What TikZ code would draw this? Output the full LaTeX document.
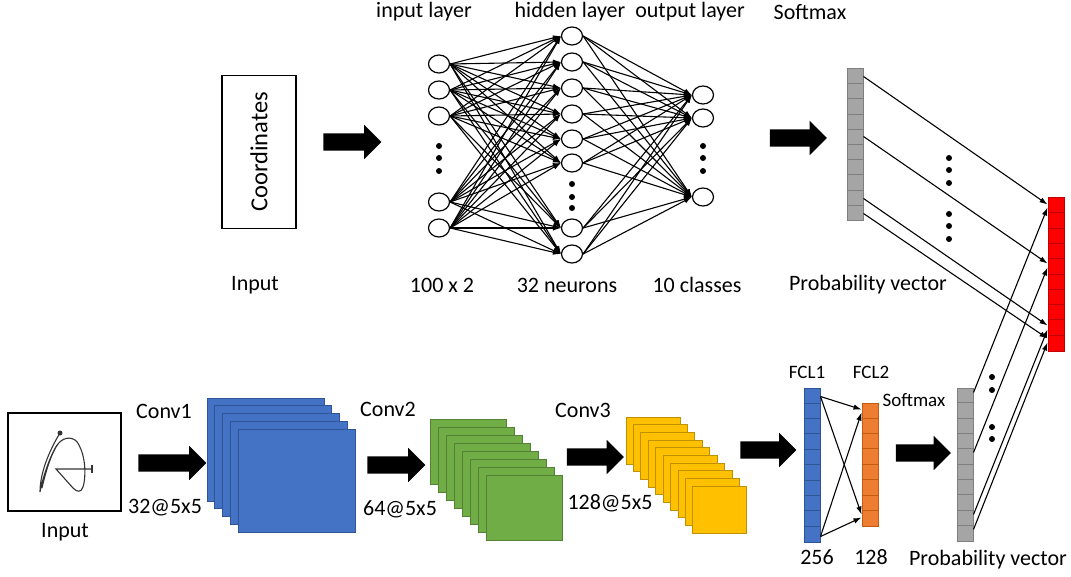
\documentclass[tikz,border=0pt]{standalone}
\usepackage{fontspec}
\setmainfont{Carlito}
\usetikzlibrary{shapes.geometric,shapes.arrows,arrows.meta}

\definecolor{azul}{HTML}{4472C4}
\definecolor{azulb}{HTML}{2F5597}
\definecolor{verde}{HTML}{70AD47}
\definecolor{verdeb}{HTML}{548235}
\definecolor{amarelo}{HTML}{FFC000}
\definecolor{amarelob}{HTML}{BF9000}
\definecolor{laranja}{HTML}{ED7D31}
\definecolor{laranjab}{HTML}{C55A11}
\definecolor{cinza}{HTML}{A5A5A5}
\definecolor{cinzab}{HTML}{7F7F7F}
\definecolor{vermelho}{HTML}{FF0000}
\definecolor{vermelhob}{HTML}{C00000}

\tikzset{
  neuronio/.style={ellipse, draw, line width=1.2pt, fill=white, minimum width=21pt, minimum height=18pt, inner sep=0pt},
  seta/.style={-{Latex[length=8pt,width=5.5pt]}, line width=1.1pt},
  setona/.style={single arrow, fill=black, draw=none, inner xsep=0pt, inner ysep=8.5pt, single arrow head extend=8.5pt},
  vetor/.style={rectangle, minimum width=16pt, inner sep=0pt, line width=1pt},
  rotulo/.style={font=\fontsize{22}{26}\selectfont},
  rotulop/.style={font=\fontsize{19}{22}\selectfont},
  mapa/.style={line width=1pt}
}

% linhas das celulas: no, n-1, altura, cor
\newcommand{\celulas}[4]{%
  \foreach \k in {1,...,#2}{\draw[line width=0.8pt,#4] ([yshift={-\k*#3}]#1.north west) -- ([yshift={-\k*#3}]#1.north east);}}

\begin{document}
\begin{tikzpicture}[x=1pt,y=-1pt]
\useasboundingbox (0,0) rectangle (1071,577);

% entrada (coordenadas)
\node[draw, line width=1.2pt, rotate=90, minimum width=153pt, minimum height=74pt, font=\fontsize{24.5}{28}\selectfont] (coord) at (259,152) {Coordinates};
\node[rotulo] (inA) at (255,285) {Input};
\node[setona, minimum height=58pt] (s1) at (348,142) {};

% rede neural
\foreach \y [count=\n] in {64,90,116,202,228}
  \node[neuronio] (i\n) at (439,\y) {};
\foreach \y [count=\n] in {36,62,88,114,139,163,228,254}
  \node[neuronio] (h\n) at (572,\y) {};
\foreach \y [count=\n] in {95,118,197}
  \node[neuronio] (o\n) at (703,\y) {};
\foreach \i in {1,...,5}
  \foreach \h in {1,...,8}
    \draw[seta] (i\i.east) -- (h\h.west);
\foreach \h in {1,...,8}
  \foreach \o in {1,2,3}
    \draw[seta] (h\h.east) -- (o\o.west);
% pontinhos
\foreach \y in {146,158,171} {\fill (439,\y) circle (3); \fill (703,\y) circle (3);}
\foreach \y in {184,197,208} \fill (572,\y) circle (3);

\node[rotulo] (tin) at (424,12) {input layer};
\node[rotulo] (thid) at (570,12) {hidden layer};
\node[rotulo] (tout) at (690,12) {output layer};
\node[rotulo] (tsoft) at (810,12) {Softmax};
\node[rotulo] (nin) at (442,285) {100 x 2};
\node[rotulo] (nhid) at (567,285) {32 neurons};
\node[rotulo] (nout) at (697,285) {10 classes};

% softmax de cima
\node[setona, minimum height=57pt] (s2) at (794,138) {};
\node[vetor, draw=cinzab, fill=cinza, minimum height=152pt] (probA) at (855,145) {};
\celulas{probA}{9}{15.2pt}{cinzab}
\node[rotulo] (tprobA) at (868,285) {Probability vector};

% vetor final
\node[vetor, draw=vermelhob, fill=vermelho, minimum height=153pt] (final) at (1056,274.5) {};
\celulas{final}{9}{15.3pt}{vermelhob}

\draw[seta] ([yshift=-8pt]probA.north east) -- ([yshift=-7pt]final.north west);
\draw[seta] ([yshift=-68pt]probA.north east) -- ([yshift=-66pt]final.north west);
\draw[seta] ([yshift=-130pt]probA.north east) -- ([yshift=-128pt]final.north west);
\draw[seta] ([yshift=-145pt]probA.north east) -- ([yshift=-141pt]final.north west);
\foreach \y in {158,170,183,214,226,239} \fill (949,\y) circle (3);

% CNN: entrada
\node[draw, line width=1.2pt, minimum width=113pt, minimum height=98pt] (img) at (64.5,462) {};
\node[rotulo] (inB) at (65,532) {Input};
\fill[black!80] (60,433) circle (2.5);
\draw[black!80, line width=1.1pt] (60,433) .. controls (52,446) and (40,470) .. (40,492)
  .. controls (43,476) and (51,454) .. (57,445)
  .. controls (50,458) and (43,475) .. (42,488)
  .. controls (46,470) and (52,452) .. (58,444) .. controls (64,436) and (75,436) .. (79,445)
  .. controls (86,458) and (86,478) .. (83,487) .. controls (81,493) and (77,492) .. (73,488)
  -- (56,469) -- (92,469);
\draw[black!80, line width=1.1pt] (92,465) -- (92,473);

% Conv1
\node[setona, minimum height=68pt] (s3) at (168,463) {};
\node[rotulo] (c1) at (164,411) {Conv1};
\node[rotulo] (f1) at (165,508) {32@5x5};
\foreach \k in {0,...,4}
  \draw[mapa, draw=azulb, fill=azul] (207+7.75*\k,398+7.75*\k) rectangle +(117,103);

% Conv2
\node[setona, minimum height=58pt] (s4) at (392,465) {};
\node[rotulo] (c2) at (388,409) {Conv2};
\node[rotulo] (f2) at (400,509) {64@5x5};
\foreach \k in {0,...,7}
  \draw[mapa, draw=verdeb, fill=verde] (430+8.14*\k,419+8*\k) rectangle +(76,65);

% Conv3
\node[setona, minimum height=57pt] (s5) at (591,457) {};
\node[rotulo] (c3) at (583,410) {Conv3};
\node[rotulo] (f3) at (610,503) {128@5x5};
\foreach \k in {0,...,9}
  \draw[mapa, draw=amarelob, fill=amarelo] (626+7.44*\k,417+7.67*\k) rectangle +(54,47);

% camadas densas
\node[setona, minimum height=56pt] (s6) at (764,450) {};
\node[vetor, draw=azulb, fill=azul, minimum height=154pt] (fcl1) at (812,465) {};
\celulas{fcl1}{9}{15.4pt}{azulb}
\node[vetor, draw=laranjab, fill=laranja, minimum height=123pt] (fcl2) at (870,464.5) {};
\celulas{fcl2}{7}{15.4pt}{laranjab}
\node[rotulop] (tf1) at (807,372) {FCL1};
\node[rotulop] (tf2) at (871,372) {FCL2};
\node[rotulo] (n1) at (817,557) {256};
\node[rotulo] (n2) at (871,557) {128};
\draw[seta] ([yshift=-9pt]fcl1.north east) -- ([yshift=-7pt]fcl2.north west);
\draw[seta] ([yshift=-9pt]fcl1.north east) -- ([yshift=-112pt]fcl2.north west);
\draw[seta] ([yshift=-149pt]fcl1.north east) -- ([yshift=-10pt]fcl2.north west);
\draw[seta] ([yshift=-149pt]fcl1.north east) -- ([yshift=-115pt]fcl2.north west);

% softmax de baixo
\node[setona, minimum height=55pt] (s7) at (919,453) {};
\node[rotulop] (tsoftB) at (914,400) {Softmax};
\node[vetor, draw=cinzab, fill=cinza, minimum height=153pt] (probB) at (965,464.5) {};
\celulas{probB}{9}{15.3pt}{cinzab}
\node[rotulo] (tprobB) at (988,560) {Probability vector};
\draw[seta] ([yshift=-5pt]probB.north east) -- ([yshift=-10pt]final.north west);
\draw[seta] ([yshift=-65pt]probB.north east) -- ([yshift=-70pt]final.north west);
\draw[seta] ([yshift=-127pt]probB.north east) -- ([yshift=-132pt]final.north west);
\draw[seta] ([yshift=-142pt]probB.north east) -- ([yshift=-145pt]final.north west);
\foreach \y in {377,390,427,439} \fill (992,\y) circle (3);
\end{tikzpicture}
\end{document}
